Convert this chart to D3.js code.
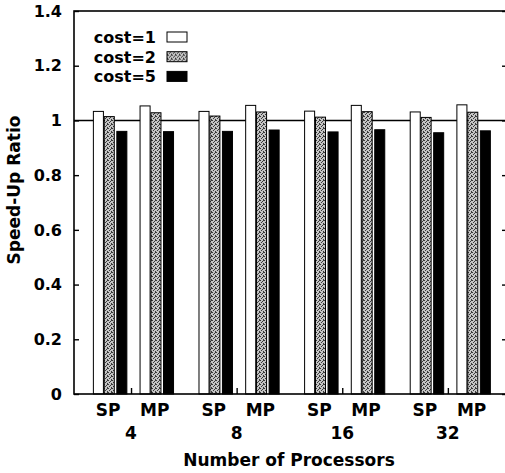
<!DOCTYPE html>
<html>
<head>
<meta charset="utf-8">
<script src="https://cdn.jsdelivr.net/npm/d3@7"></script>
<style>
  body { margin: 0; background: #fff; }
  svg text { font-family: "DejaVu Sans", sans-serif; font-weight: bold; fill: #000; }
</style>
</head>
<body>
<svg id="chart" width="505" height="473"></svg>
<script>
// data (order: SP4, MP4, SP8, MP8, SP16, MP16, SP32, MP32)
var groups = ["4", "8", "16", "32"];
var modes = ["SP", "MP"];
var costNames = ["cost=1", "cost=2", "cost=5"];
var cost1 = [1.033, 1.053, 1.033, 1.055, 1.034, 1.055, 1.031, 1.057];
var cost2 = [1.014, 1.028, 1.016, 1.031, 1.012, 1.032, 1.011, 1.030];
var cost5 = [0.960, 0.959, 0.960, 0.965, 0.958, 0.966, 0.955, 0.962];
var yTicks = [0, 0.2, 0.4, 0.6, 0.8, 1, 1.2, 1.4];

var svg = d3.select("#chart");
var plotL = 74, plotR = 507, plotT = 11, plotB = 394;

// gray stipple fill
var defs = svg.append("defs");
var pat = defs.append("pattern").attr("id", "stipple")
    .attr("width", 4).attr("height", 4).attr("patternUnits", "userSpaceOnUse");
pat.append("rect").attr("width", 4).attr("height", 4).attr("fill", "#c4c4c4");
[[0,0],[2,1],[1,2],[3,3],[3,0]].forEach(function(p){
    pat.append("rect").attr("x", p[0]).attr("y", p[1]).attr("width", 1).attr("height", 1).attr("fill", "#3a3a3a");
});

var x = d3.scaleLinear().domain([-0.54, 3.56]).range([plotL, plotR]);
var y = d3.scaleLinear().domain([0, 1.4]).range([plotB, plotT]);

var modeOff = [-0.198, 0.244];   // SP / MP cluster offsets (group units)
var barOff = [-0.111, -0.008, 0.111];
var barW = x(0.095) - x(0);
var fills = ["#fff", "url(#stipple)", "#000"];
var series = [cost1, cost2, cost5];

// y = 1 reference line
svg.append("line")
    .attr("x1", plotL).attr("x2", plotR)
    .attr("y1", y(1)).attr("y2", y(1))
    .attr("stroke", "#000").attr("stroke-width", 1.6);

// bars
series.forEach(function(vals, s){
    svg.append("g").selectAll("rect")
        .data(vals)
        .enter().append("rect")
        .attr("x", function(d, i){
            var g = Math.floor(i / 2), m = i % 2;
            return x(g + modeOff[m] + barOff[s]) - barW / 2;
        })
        .attr("y", function(d){ return y(d); })
        .attr("width", barW)
        .attr("height", function(d){ return y(0) - y(d); })
        .attr("fill", fills[s])
        .attr("stroke", "#000").attr("stroke-width", 1);
});

// frame
svg.append("rect")
    .attr("x", plotL).attr("y", plotT)
    .attr("width", plotR - plotL).attr("height", plotB - plotT)
    .attr("fill", "none").attr("stroke", "#000").attr("stroke-width", 1.6);

// y axes (ticks inward, both sides)
svg.append("g")
    .attr("transform", "translate(" + plotL + ",0)")
    .call(d3.axisRight(y).tickValues(yTicks).tickSize(5).tickFormat(""))
    .call(function(g){ g.select(".domain").remove(); g.selectAll("line").attr("stroke-width", 1.4); });
svg.append("g")
    .attr("transform", "translate(" + plotR + ",0)")
    .call(d3.axisLeft(y).tickValues(yTicks).tickSize(5).tickFormat(""))
    .call(function(g){ g.select(".domain").remove(); g.selectAll("line").attr("stroke-width", 1.4); });

svg.append("g").selectAll("text")
    .data(yTicks)
    .enter().append("text")
    .attr("x", 62).attr("y", function(d){ return y(d); })
    .attr("dy", "0.36em")
    .attr("text-anchor", "end")
    .style("font-size", "16px")
    .text(function(d){ return d3.format("")(d); });

// x axis ticks at group centres (inward)
svg.append("g")
    .attr("transform", "translate(0," + plotB + ")")
    .call(d3.axisTop(x).tickValues([0, 1, 2, 3]).tickSize(6).tickFormat(""))
    .call(function(g){ g.select(".domain").remove(); g.selectAll("line").attr("stroke-width", 1.4); });

// SP / MP labels
var sub = [];
groups.forEach(function(g, gi){ modes.forEach(function(m, mi){ sub.push({g: gi, m: mi, t: m}); }); });
svg.append("g").selectAll("text")
    .data(sub)
    .enter().append("text")
    .attr("x", function(d){ return x(d.g + modeOff[d.m]) - 2; })
    .attr("y", 416)
    .attr("text-anchor", "middle")
    .style("font-size", "17px")
    .text(function(d){ return d.t; });

svg.append("g").selectAll("text")
    .data(groups)
    .enter().append("text")
    .attr("x", function(d, i){ return x(i); })
    .attr("y", 439)
    .attr("text-anchor", "middle")
    .style("font-size", "17px")
    .text(function(d){ return d; });

// axis titles
svg.append("text")
    .attr("x", 289).attr("y", 466)
    .attr("text-anchor", "middle")
    .style("font-size", "17px")
    .text("Number of Processors");

svg.append("text")
    .attr("transform", "translate(20,190) rotate(-90)")
    .attr("text-anchor", "middle")
    .style("font-size", "17px")
    .text("Speed-Up Ratio");

// legend
var legend = svg.append("g").selectAll("g")
    .data(costNames)
    .enter().append("g")
    .attr("transform", function(d, i){ return "translate(0," + (43 + i * 19.7) + ")"; });
legend.append("text")
    .attr("x", 156).attr("y", 0)
    .attr("text-anchor", "end")
    .style("font-size", "16px")
    .text(function(d){ return d; });
legend.append("rect")
    .attr("x", 167).attr("y", -11)
    .attr("width", 20).attr("height", 10)
    .attr("fill", function(d, i){ return fills[i]; })
    .attr("stroke", "#000").attr("stroke-width", 1);
</script>
</body>
</html>
